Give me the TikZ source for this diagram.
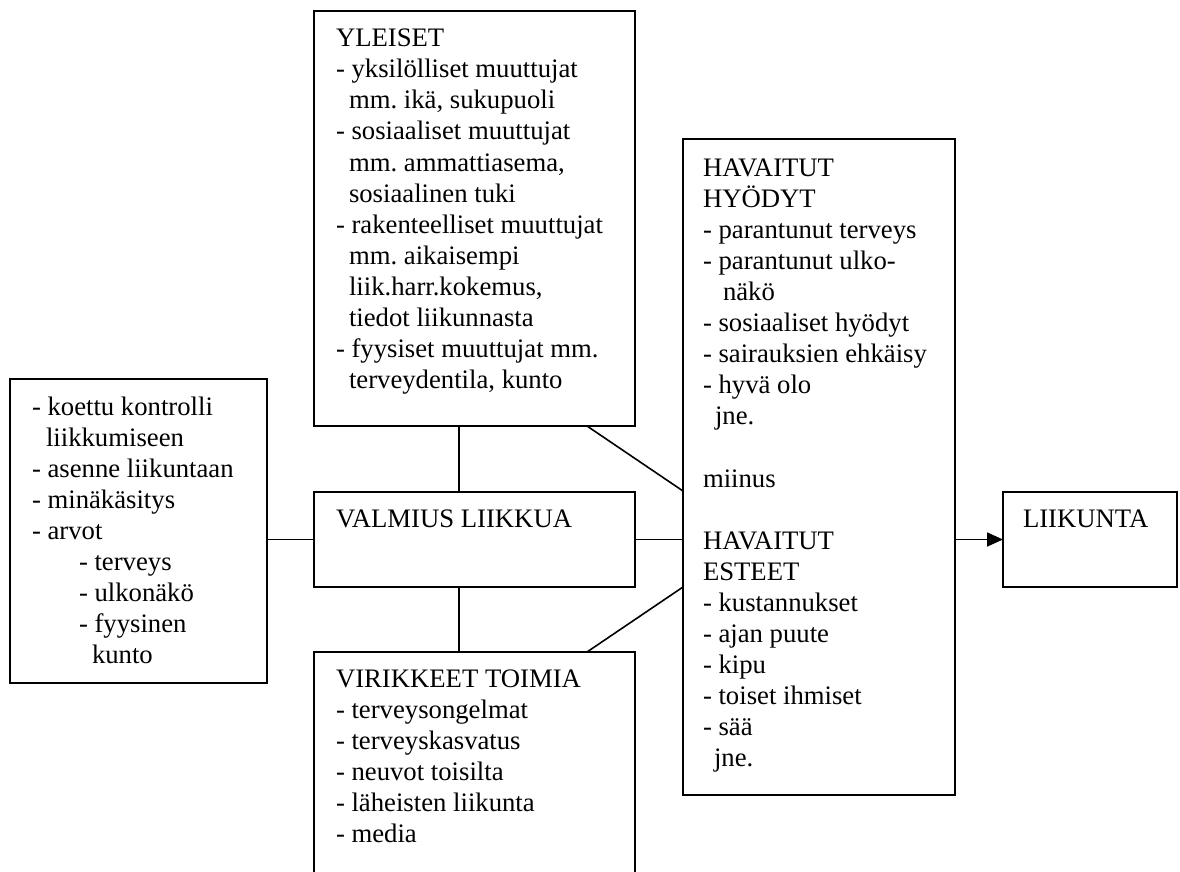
\documentclass[tikz,border=0pt]{standalone}
\usepackage{fontspec}
\setmainfont{Liberation Serif}
\usetikzlibrary{calc,arrows.meta}
\frenchspacing

\newcommand{\ind}[1]{\hspace*{#1pt}}

\begin{document}
\begin{tikzpicture}[x=1pt,y=-1pt,
  box/.style={draw, line width=1.6pt, rectangle, anchor=north west, inner sep=0pt, outer sep=0pt},
  txt/.style={anchor=base west, inner sep=0pt, outer sep=0pt, font=\fontsize{26.7pt}{31.1pt}\selectfont},
  link/.style={line width=1.6pt}]
\useasboundingbox (0,0) rectangle (1180,872);

% boxes
\node[box, minimum width=257pt, minimum height=304pt] (L) at (10,379) {};
\node[box, minimum width=321pt, minimum height=415pt] (Y) at (314,11) {};
\node[box, minimum width=321pt, minimum height=95pt]  (V) at (314,492) {};
\node[box, minimum width=321pt, minimum height=240pt] (VT) at (314,652) {};
\node[box, minimum width=272pt, minimum height=656pt] (H) at (683,139) {};
\node[box, minimum width=174pt, minimum height=95pt]  (LK) at (1003,492) {};

% texts
\node[txt] (Ltxt) at (32,415) {\begin{tabular}[t]{@{}l@{}}
- koettu kontrolli\\
\ind{14}liikkumiseen\\
- asenne liikuntaan\\
- minäkäsitys\\
- arvot\\
\ind{47}- terveys\\
\ind{47}- ulkonäkö\\
\ind{47}- fyysinen\\
\ind{60}kunto
\end{tabular}};

\node[txt] (Ytxt) at (336,46.7) {\begin{tabular}[t]{@{}l@{}}
YLEISET\\
- yksilölliset muuttujat\\
\ind{13}mm. ikä, sukupuoli\\
- sosiaaliset muuttujat\\
\ind{13}mm. ammattiasema,\\
\ind{13}sosiaalinen tuki\\
- rakenteelliset muuttujat\\
\ind{13}mm. aikaisempi\\
\ind{13}liik.harr.kokemus,\\
\ind{13}tiedot liikunnasta\\
- fyysiset muuttujat mm.\\
\ind{13}terveydentila, kunto
\end{tabular}};

\node[txt] (Vtxt) at (336,527) {VALMIUS LIIKKUA};

\node[txt] (VTtxt) at (336,687) {\begin{tabular}[t]{@{}l@{}}
VIRIKKEET TOIMIA\\
- terveysongelmat\\
- terveyskasvatus\\
- neuvot toisilta\\
- läheisten liikunta\\
- media
\end{tabular}};

\node[txt] (Htxt) at (703,176) {\begin{tabular}[t]{@{}l@{}}
HAVAITUT\\
HYÖDYT\\
- parantunut terveys\\
- parantunut ulko-\\
\ind{20}näkö\\
- sosiaaliset hyödyt\\
- sairauksien ehkäisy\\
- hyvä olo\\
\ind{12}jne.\\
\\
miinus\\
\\
HAVAITUT\\
ESTEET\\
- kustannukset\\
- ajan puute\\
- kipu\\
- toiset ihmiset\\
- sää\\
\ind{11}jne.
\end{tabular}};

\node[txt] (LKtxt) at (1023,527) {LIIKUNTA};

% connectors
\draw[link] ($(Y.south west)+(145,0)$) -- ($(V.north west)+(145,0)$);
\draw[link] ($(V.south west)+(145,0)$) -- ($(VT.north west)+(145,0)$);
\draw[link] (V.west -| L.east) -- (V.west);
\draw[link] (V.east) -- (V.east -| H.west);
\draw[link] ($(Y.south west)+(273,0)$) -- ($(H.north west)+(0,352)$);
\draw[link] ($(VT.north west)+(273,0)$) -- ($(H.north west)+(0,448)$);
\draw[link, -{Triangle[length=16pt,width=14pt]}] (LK.west -| H.east) -- (LK.west);
\end{tikzpicture}
\end{document}
